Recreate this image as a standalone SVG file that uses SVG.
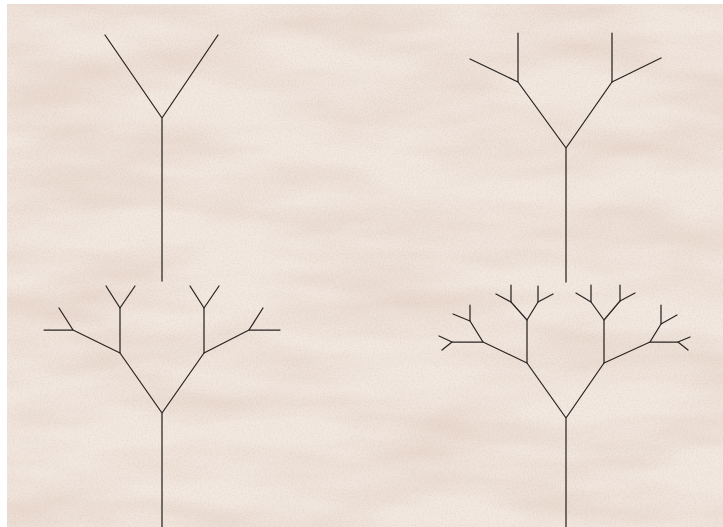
<svg xmlns="http://www.w3.org/2000/svg" width="723" height="527" viewBox="0 0 723 527">
  <style>
    .br { fill: none; stroke: #2a2522; stroke-width: 1.25; stroke-linecap: round; stroke-linejoin: round; }
  </style>
  <defs>
    <filter id="tex" x="0" y="0" width="100%" height="100%" color-interpolation-filters="sRGB">
      <feTurbulence type="fractalNoise" baseFrequency="0.006 0.024" numOctaves="3" seed="7" result="n"/>
      <feColorMatrix in="n" type="matrix" values="0 0 0 0 0.82  0 0 0 0 0.70  0 0 0 0 0.64  1.4 0 0 0 -0.5"/>
    </filter>
    <filter id="grain" x="0" y="0" width="100%" height="100%" color-interpolation-filters="sRGB">
      <feTurbulence type="fractalNoise" baseFrequency="0.6" numOctaves="1" seed="3" result="g"/>
      <feColorMatrix in="g" type="matrix" values="0 0 0 0 0.78  0 0 0 0 0.68  0 0 0 0 0.62  1.6 0 0 0 -0.7"/>
    </filter>
  </defs>
  <rect x="0" y="0" width="723" height="527" fill="#ffffff"/>
  <g id="background">
    <rect x="7" y="4" width="716" height="523" fill="#F2E8E0"/>
    <rect x="7" y="4" width="716" height="523" filter="url(#tex)" opacity="0.45"/>
    <rect x="7" y="4" width="716" height="523" filter="url(#grain)" opacity="0.3"/>
  </g>
  <g id="tree1">
    <path class="br" d="M162 281 V118 M105 35 L162 118 L218 35"/>
  </g>
  <g id="tree2">
    <path class="br" d="M566 282 V148 M518 82 L566 148 L612 82"/>
    <path class="br" d="M518 33 V82 L470 59 M612 33 V82 L661 58"/>
  </g>
  <g id="tree3">
    <path class="br" d="M162 527 V413 M120 353 L162 413 L204 353"/>
    <path class="br" d="M120 308 V353 L73 330 M204 308 V353 L249 330"/>
    <path class="br" d="M106 286 L120 308 L135 286 M190 286 L204 308 L219 286"/>
    <path class="br" d="M44 330 H73 L59 308 M280 330 H249 L263 308"/>
  </g>
  <g id="tree4">
    <path class="br" d="M566 527 V418 M527 363 L566 418 L604 363"/>
    <path class="br" d="M527 320 V363 L483 342 M604 320 V363 L650 342"/>
    <path class="br" d="M511 302 L527 320 L538 302 M591 302 L604 320 L620 301"/>
    <path class="br" d="M511 285 V302 L496 294 M538 286 V302 L553 294"/>
    <path class="br" d="M591 285 V302 L576 293 M620 285 V301 L635 293"/>
    <path class="br" d="M452 342 H483 L470 321 M678 342 H650 L661 324"/>
    <path class="br" d="M470 305 V321 L453 314 M661 305 V324 L677 315"/>
    <path class="br" d="M439 336 L452 342 L442 350 M690 337 L678 342 L688 350"/>
  </g>
</svg>
